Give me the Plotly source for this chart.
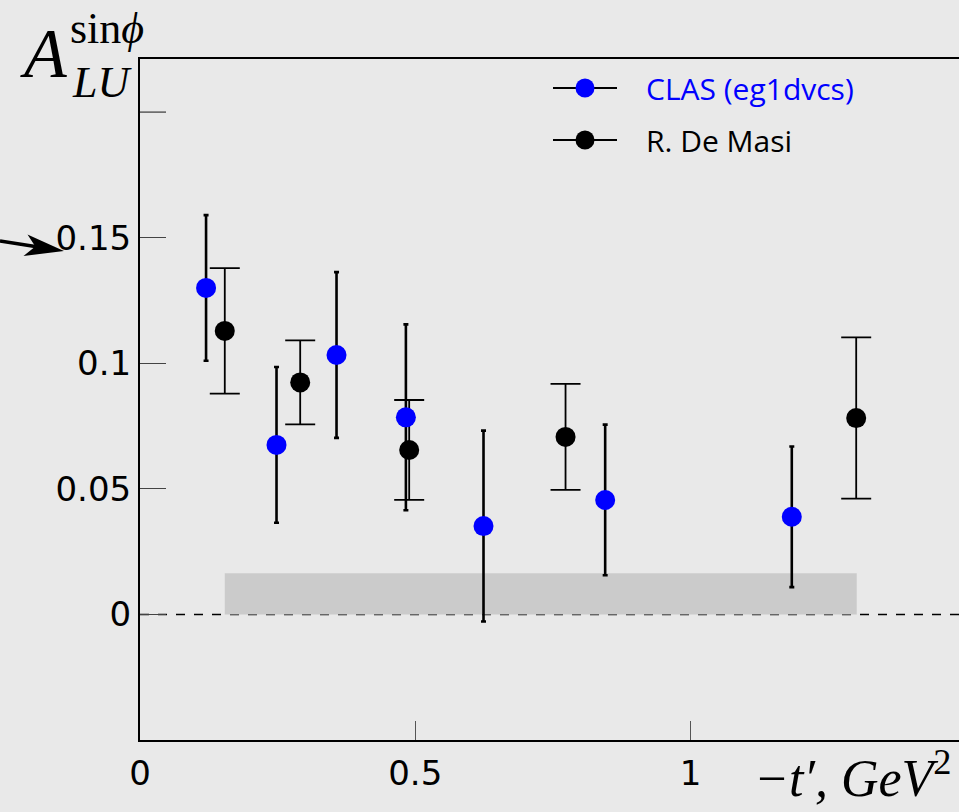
import plotly.graph_objects as go

# ---- data ----
clas_x = [0.120, 0.248, 0.357, 0.483, 0.624, 0.845, 1.184]
clas_y = [0.130, 0.0675, 0.1033, 0.0785, 0.0352, 0.0456, 0.0389]
clas_err = [0.029, 0.031, 0.033, 0.037, 0.038, 0.030, 0.028]

masi_x = [0.154, 0.291, 0.489, 0.773, 1.301]
masi_y = [0.1129, 0.0924, 0.0655, 0.0707, 0.0782]
masi_err = [0.025, 0.0167, 0.0199, 0.0211, 0.0321]

band_x = [0.154, 1.302]
band_y = [0.0, 0.0164]

y_tickvals = [0, 0.05, 0.1, 0.15]
y_ticktext = ["0", "0.05", "0.1", "0.15"]
y_extra_tick = 0.2
x_tickvals = [0, 0.5, 1]
x_ticktext = ["0", "0.5", "1"]

W, H = 959, 812
ML, MR, MT, MB = 140, 0, 59, 72
PW, PH = W - ML - MR, H - MT - MB


def px(x):
    return (x - ML) / PW


def py(y):
    return (H - MB - y) / PH


BG = "#e9e9e9"

fig = go.Figure()

fig.add_trace(go.Scatter(
    x=masi_x, y=masi_y, mode="markers",
    marker=dict(color="black", size=20),
    error_y=dict(type="data", array=masi_err, visible=True,
                 color="black", thickness=1.8, width=15),
    showlegend=False,
))
fig.add_trace(go.Scatter(
    x=clas_x, y=clas_y, mode="markers",
    marker=dict(color="#0000ff", size=20),
    error_y=dict(type="data", array=clas_err, visible=True,
                 color="black", thickness=2.6, width=2.5),
    showlegend=False,
))

shapes = []
# zero dashed line
shapes.append(dict(type="line", xref="paper", yref="y", x0=0, x1=1, y0=0, y1=0,
                   line=dict(color="black", width=1.6, dash="dash"), layer="below"))
# systematic band
shapes.append(dict(type="rect", xref="x", yref="y", x0=band_x[0], x1=band_x[1],
                   y0=band_y[0], y1=band_y[1], fillcolor="#cbcbcb",
                   line=dict(width=0), layer="below"))
# unlabelled tick at 0.2
shapes.append(dict(type="line", xref="paper", yref="y", x0=0, x1=26 / PW,
                   y0=y_extra_tick, y1=y_extra_tick,
                   line=dict(color="#444", width=1.3)))

# legend (manual)
for yy, col in [(88, "#0000ff"), (140, "black")]:
    shapes.append(dict(type="line", xref="paper", yref="paper",
                       x0=px(553), x1=px(617), y0=py(yy), y1=py(yy),
                       line=dict(color="black", width=2)))
    r = 9.5
    shapes.append(dict(type="circle", xref="paper", yref="paper",
                       x0=px(585 - r), x1=px(585 + r), y0=py(yy + r), y1=py(yy - r),
                       fillcolor=col, line=dict(width=0)))

# arrow pointing at 0.15
shapes.append(dict(type="line", xref="paper", yref="paper",
                   x0=px(0), y0=py(241), x1=px(40), y1=py(247.3),
                   line=dict(color="black", width=3.5)))
pts = [(64, 251), (23.5, 256), (35.3, 246.6), (27.5, 234.5)]
path = "M " + " L ".join(f"{px(a):.5f},{py(b):.5f}" for a, b in pts) + " Z"
shapes.append(dict(type="path", xref="paper", yref="paper", path=path,
                   fillcolor="black", line=dict(width=0)))

annotations = [
    dict(text="CLAS (eg1dvcs)", x=px(644), y=py(88), xref="paper", yref="paper",
         xanchor="left", yanchor="middle", showarrow=False,
         font=dict(family="Open Sans", size=30, color="#0000ff")),
    dict(text="R. De Masi", x=px(644), y=py(140), xref="paper", yref="paper",
         xanchor="left", yanchor="middle", showarrow=False,
         font=dict(family="Open Sans", size=30, color="black")),
    # y-axis title A_LU^{sin phi}
    dict(text="<i>A</i>", x=px(43), y=py(54), xref="paper", yref="paper",
         xanchor="center", yanchor="middle", showarrow=False,
         font=dict(family="Liberation Serif", size=70, color="black")),
    dict(text="sin<i>ϕ</i>", x=px(68), y=py(28), xref="paper", yref="paper",
         xanchor="left", yanchor="middle", showarrow=False,
         font=dict(family="Liberation Serif", size=44, color="black")),
    dict(text="<i>LU</i>", x=px(70), y=py(82), xref="paper", yref="paper",
         xanchor="left", yanchor="middle", showarrow=False,
         font=dict(family="Liberation Serif", size=44, color="black")),
    # x-axis title
    dict(text="<i>−t′, GeV</i><sup>2</sup>", x=px(752), y=py(774), xref="paper", yref="paper",
         xanchor="left", yanchor="middle", showarrow=False,
         font=dict(family="Liberation Serif", size=52, color="black")),
]

fig.update_layout(
    width=W, height=H,
    margin=dict(l=ML, r=MR, t=MT, b=MB, pad=0),
    paper_bgcolor=BG, plot_bgcolor=BG,
    shapes=shapes, annotations=annotations,
    showlegend=False,
    xaxis=dict(range=[0, PW / 550.5], showgrid=False, zeroline=False,
               showline=True, linecolor="black", linewidth=2, mirror=True,
               ticks="inside", ticklen=19, tickwidth=1.2, tickcolor="#555",
               tickmode="array", tickvals=x_tickvals, ticktext=x_ticktext,
               tickfont=dict(family="DejaVu Sans", size=34, color="black"),
               ticklabelstandoff=2),
    yaxis=dict(range=[-(740 - 614.5) / 2512, (614.5 - MT) / 2512],
               showgrid=False, zeroline=False,
               showline=True, linecolor="black", linewidth=2, mirror=False,
               ticks="inside", ticklen=26, tickwidth=1.3, tickcolor="#444",
               tickmode="array", tickvals=y_tickvals, ticktext=y_ticktext,
               tickfont=dict(family="DejaVu Sans", size=34, color="black"),
               ticklabelstandoff=0),
)

fig.write_html("out.html")
